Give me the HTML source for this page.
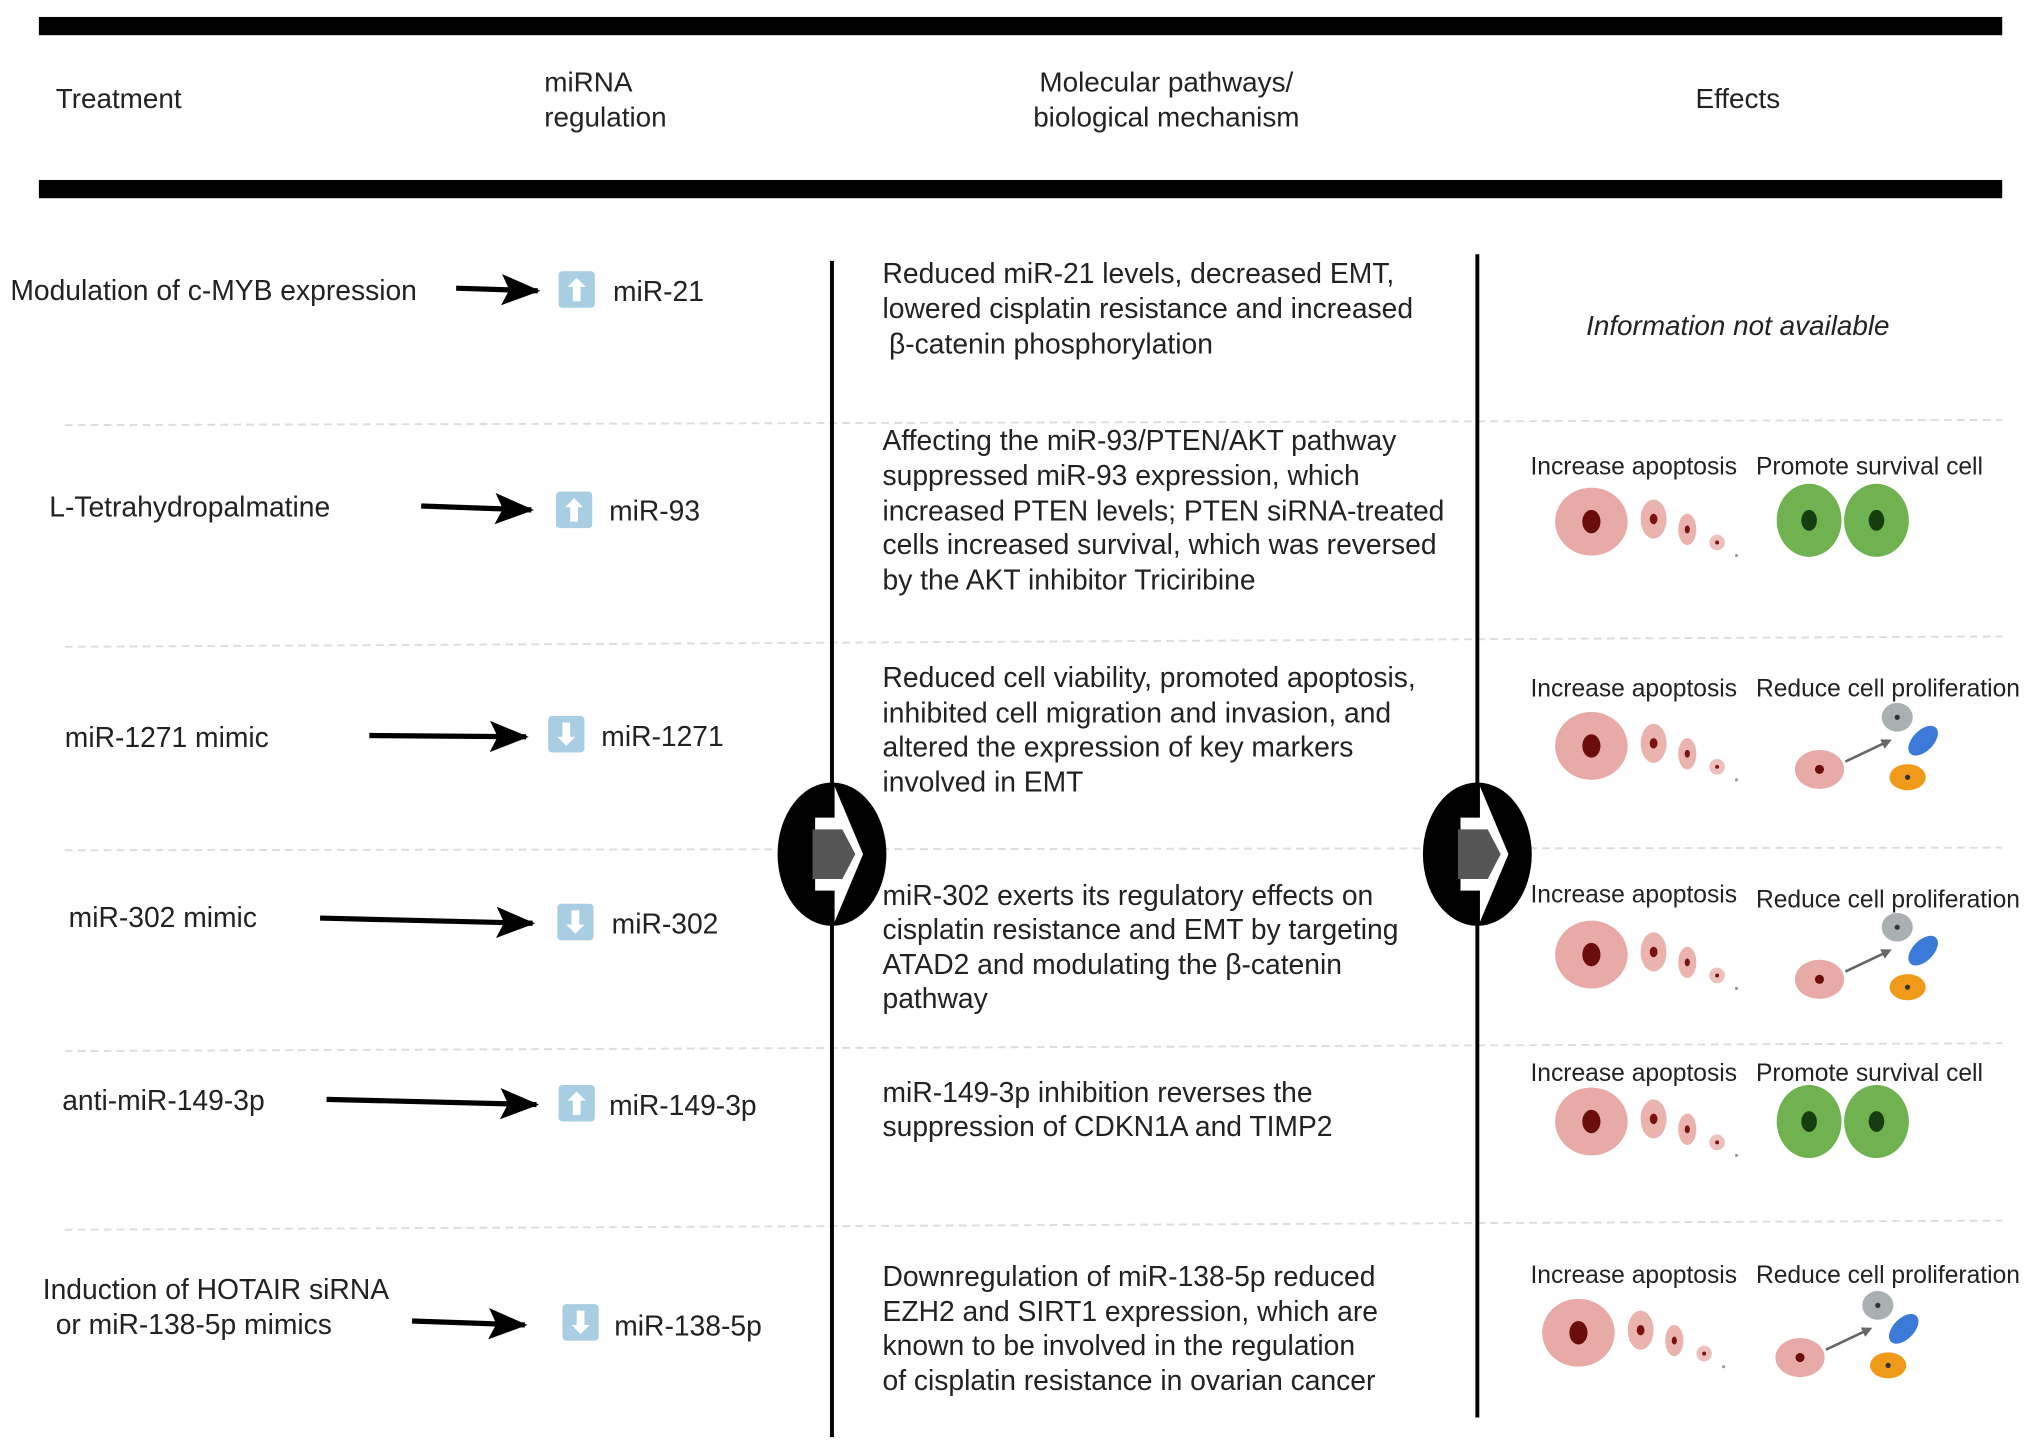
<!DOCTYPE html>
<html><head><meta charset="utf-8"><style>
html,body{margin:0;padding:0;background:#fff;}
svg{display:block;}
text{font-family:"Liberation Sans",sans-serif;fill:#222;}
</style></head><body>
<svg width="2032" height="1441" viewBox="0 0 1568 1105" preserveAspectRatio="none" xmlns="http://www.w3.org/2000/svg">
<defs>
<marker id="ah" markerWidth="8" markerHeight="8" refX="6" refY="4" orient="auto" markerUnits="userSpaceOnUse"><path d="M0,0 L8,4 L0,8 Z" fill="#666"/></marker>
<g id="apo">
<ellipse cx="0" cy="0" rx="28" ry="26" fill="#e8aaa6"/>
<ellipse cx="0" cy="0" rx="7" ry="9" fill="#6b0d0d"/>
<ellipse cx="48" cy="-2" rx="10" ry="15" fill="#eab3ae"/>
<ellipse cx="48" cy="-2" rx="3" ry="4" fill="#7a1212"/>
<ellipse cx="74" cy="6" rx="7" ry="12" fill="#eab3ae"/>
<ellipse cx="74" cy="6" rx="2" ry="3" fill="#7a1212"/>
<ellipse cx="97" cy="16" rx="6" ry="6" fill="#ecc0bc"/>
<circle cx="97" cy="16" r="1.5" fill="#7a1212"/>
<circle cx="112" cy="26" r="1.2" fill="#999"/>
</g>
<g id="prol">
<ellipse cx="0" cy="0" rx="19" ry="15" fill="#e8aaa6"/>
<circle cx="0" cy="0" r="3.5" fill="#6b0d0d"/>
<line x1="20" y1="-6" x2="54" y2="-22" stroke="#666" stroke-width="2" marker-end="url(#ah)"/>
<ellipse cx="60" cy="-40" rx="12" ry="11" fill="#aab0b2"/>
<circle cx="60" cy="-40" r="2" fill="#333"/>
<ellipse cx="80" cy="-22" rx="8" ry="14" fill="#3b7ad8" transform="rotate(45 80 -22)"/>
<ellipse cx="68" cy="6" rx="14" ry="10" fill="#f09a1a"/>
<circle cx="68" cy="6" r="2" fill="#333"/>
</g>
<g id="surv">
<ellipse cx="0" cy="0" rx="25" ry="28" fill="#6fb24f"/>
<ellipse cx="0" cy="0" rx="6" ry="8" fill="#153d10"/>
<ellipse cx="52" cy="0" rx="25" ry="28" fill="#6fb24f"/>
<ellipse cx="52" cy="0" rx="6" ry="8" fill="#153d10"/>
</g>
<g id="up"><rect x="0" y="0" width="28" height="28" rx="3" fill="#a9cde3"/><path d="M14,5 L21,12 L17,12 L17,23 L11,23 L11,12 L7,12 Z" fill="#fff"/></g>
<g id="dn"><rect x="0" y="0" width="28" height="28" rx="3" fill="#a9cde3"/><path d="M14,23 L21,16 L17,16 L17,5 L11,5 L11,16 L7,16 Z" fill="#fff"/></g>
<marker id="blk" markerWidth="30" markerHeight="24" refX="28" refY="12" orient="auto" markerUnits="userSpaceOnUse"><path d="M0,0 L30,12 L0,24 L6,12 Z" fill="#000"/></marker>
</defs>

<rect x="30" y="13" width="1515" height="14" fill="#000"/>
<rect x="30" y="138" width="1515" height="14" fill="#000"/>
<g font-size="21.5">
<text x="43" y="83">Treatment</text>
<text x="420" y="70">miRNA</text>
<text x="420" y="97">regulation</text>
<text x="900" y="70" text-anchor="middle">Molecular pathways/</text>
<text x="900" y="97" text-anchor="middle">biological mechanism</text>
<text x="1341" y="83" text-anchor="middle">Effects</text>
</g>

<g stroke="#ddd" stroke-width="1.5" stroke-dasharray="6,4">
<line x1="50" y1="326" x2="1545" y2="322"/>
<line x1="50" y1="496" x2="1545" y2="488"/>
<line x1="50" y1="652" x2="1545" y2="650"/>
<line x1="50" y1="806" x2="1545" y2="800"/>
<line x1="50" y1="943" x2="1545" y2="936"/>
</g>

<line x1="642" y1="200" x2="642" y2="1102" stroke="#000" stroke-width="3"/>
<line x1="1140" y1="195" x2="1140" y2="1087" stroke="#000" stroke-width="3"/>
<g>
<ellipse cx="642" cy="655" rx="42" ry="55" fill="#000"/>
<path d="M644,603 L666,655 L644,707 L644,683 L629,683 L629,627 L644,627 Z" fill="#fff"/>
<path d="M627,636 L650,636 L660,655 L650,674 L627,674 Z" fill="#555"/>
<ellipse cx="1140" cy="655" rx="42" ry="55" fill="#000"/>
<path d="M1142,603 L1164,655 L1142,707 L1142,683 L1127,683 L1127,627 L1142,627 Z" fill="#fff"/>
<path d="M1125,636 L1148,636 L1158,655 L1148,674 L1125,674 Z" fill="#555"/>
</g>

<g stroke="#000" stroke-width="4" marker-end="url(#blk)">
<line x1="352" y1="221" x2="415" y2="223"/>
<line x1="325" y1="388" x2="410" y2="391"/>
<line x1="285" y1="564" x2="406" y2="565"/>
<line x1="247" y1="704" x2="411" y2="708"/>
<line x1="252" y1="843" x2="414" y2="847"/>
<line x1="318" y1="1013" x2="405" y2="1016"/>
</g>

<g font-size="21.8">
<text x="8" y="230">Modulation of c-MYB expression</text>
<text x="38" y="396">L-Tetrahydropalmatine</text>
<text x="50" y="573">miR-1271 mimic</text>
<text x="53" y="711">miR-302 mimic</text>
<text x="48" y="851">anti-miR-149-3p</text>
<text x="33" y="996">Induction of HOTAIR siRNA</text>
<text x="43" y="1023">or miR-138-5p mimics</text>

<use href="#up" x="431" y="208"/><text x="473" y="231">miR-21</text>
<use href="#up" x="429" y="377"/><text x="470" y="399">miR-93</text>
<use href="#dn" x="423" y="549"/><text x="464" y="572">miR-1271</text>
<use href="#dn" x="430" y="693"/><text x="472" y="716">miR-302</text>
<use href="#up" x="431" y="832"/><text x="470" y="855">miR-149-3p</text>
<use href="#dn" x="434" y="1000"/><text x="474" y="1024">miR-138-5p</text>

<text x="681" y="217">Reduced miR-21 levels, decreased EMT,</text>
<text x="681" y="244">lowered cisplatin resistance and increased</text>
<text x="686" y="271">β-catenin phosphorylation</text>
<text x="681" y="345">Affecting the miR-93/PTEN/AKT pathway</text>
<text x="681" y="372">suppressed miR-93 expression, which</text>
<text x="681" y="399">increased PTEN levels; PTEN siRNA-treated</text>
<text x="681" y="425">cells increased survival, which was reversed</text>
<text x="681" y="452">by the AKT inhibitor Triciribine</text>
<text x="681" y="527">Reduced cell viability, promoted apoptosis,</text>
<text x="681" y="554">inhibited cell migration and invasion, and</text>
<text x="681" y="580">altered the expression of key markers</text>
<text x="681" y="607">involved in EMT</text>
<text x="681" y="694">miR-302 exerts its regulatory effects on</text>
<text x="681" y="720">cisplatin resistance and EMT by targeting</text>
<text x="681" y="747">ATAD2 and modulating the β-catenin</text>
<text x="681" y="773">pathway</text>
<text x="681" y="845">miR-149-3p inhibition reverses the</text>
<text x="681" y="871">suppression of CDKN1A and TIMP2</text>
<text x="681" y="986">Downregulation of miR-138-5p reduced</text>
<text x="681" y="1013">EZH2 and SIRT1 expression, which are</text>
<text x="681" y="1039">known to be involved in the regulation</text>
<text x="681" y="1066">of cisplatin resistance in ovarian cancer</text>
</g>
<text x="1341" y="257" text-anchor="middle" font-style="italic" font-size="21.5">Information not available</text>

<g font-size="19">
<text x="1181" y="364">Increase apoptosis</text><text x="1355" y="364">Promote survival cell</text>
<text x="1181" y="534">Increase apoptosis</text><text x="1355" y="534">Reduce cell proliferation</text>
<text x="1181" y="692">Increase apoptosis</text><text x="1355" y="696">Reduce cell proliferation</text>
<text x="1181" y="829">Increase apoptosis</text><text x="1355" y="829">Promote survival cell</text>
<text x="1181" y="984">Increase apoptosis</text><text x="1355" y="984">Reduce cell proliferation</text>
</g>
<use href="#apo" x="1228" y="400"/><use href="#surv" x="1396" y="399"/>
<use href="#apo" x="1228" y="572"/><use href="#prol" x="1404" y="590"/>
<use href="#apo" x="1228" y="732"/><use href="#prol" x="1404" y="751"/>
<use href="#apo" x="1228" y="860"/><use href="#surv" x="1396" y="860"/>
<use href="#apo" x="1218" y="1022"/><use href="#prol" x="1389" y="1041"/>
</svg>
</body></html>
